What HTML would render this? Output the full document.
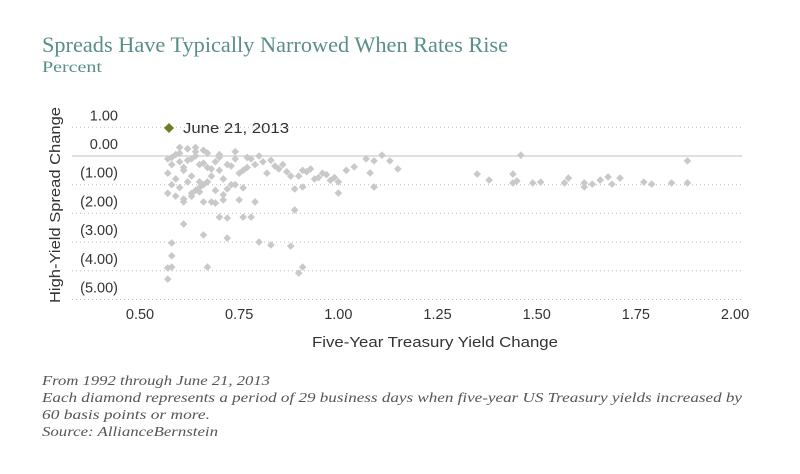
<!DOCTYPE html>
<html><head><meta charset="utf-8"><style>
body{margin:0;background:#fff;width:800px;height:474px;overflow:hidden}
svg{display:block}
</style></head><body>
<svg width="800" height="474">
<text x="42" y="52" font-family="Liberation Serif, serif" font-size="22" fill="#5a8e8a" textLength="466" lengthAdjust="spacingAndGlyphs">Spreads Have Typically Narrowed When Rates Rise</text>
<text x="42" y="72" font-family="Liberation Serif, serif" font-size="15.5" fill="#5a8e8a" textLength="60" lengthAdjust="spacingAndGlyphs">Percent</text>
<g id="grid"></g><g id="yticks"></g><g id="xticks"></g><g id="pts"></g>
<text transform="translate(60,205) rotate(-90)" text-anchor="middle" font-family="Liberation Sans, sans-serif" font-size="14.5" fill="#333" textLength="196" lengthAdjust="spacingAndGlyphs">High-Yield Spread Change</text>
<text x="435" y="347" text-anchor="middle" font-family="Liberation Sans, sans-serif" font-size="14.5" fill="#333" textLength="246" lengthAdjust="spacingAndGlyphs">Five-Year Treasury Yield Change</text>
<path d="M169,123 L174,128 L169,133 L164,128 Z" fill="#6b7f1e"/>
<text x="183" y="133" font-family="Liberation Sans, sans-serif" font-size="14.5" fill="#333" textLength="106" lengthAdjust="spacingAndGlyphs">June 21, 2013</text>
<g font-family="Liberation Serif, serif" font-style="italic" font-size="13.5" fill="#555" lengthAdjust="spacingAndGlyphs">
<text x="42" y="385" textLength="228" lengthAdjust="spacingAndGlyphs">From 1992 through June 21, 2013</text>
<text x="42" y="402" textLength="700" lengthAdjust="spacingAndGlyphs">Each diamond represents a period of 29 business days when five-year US Treasury yields increased by</text>
<text x="42" y="419" textLength="168" lengthAdjust="spacingAndGlyphs">60 basis points or more.</text>
<text x="42" y="436" textLength="176" lengthAdjust="spacingAndGlyphs">Source: AllianceBernstein</text>
</g>
</svg>
<script>
const yTicks=[1,0,-1,-2,-3,-4,-5];
const yTickLabels=["1.00","0.00","(1.00)","(2.00)","(3.00)","(4.00)","(5.00)"];
const xTicks=[0.5,0.75,1.0,1.25,1.5,1.75,2.0];
const xTickLabels=["0.50","0.75","1.00","1.25","1.50","1.75","2.00"];
const xVals=[0.61,0.66,0.72,0.80,0.83,0.88,0.58,0.58,0.57,0.58,0.57,0.67,0.90,0.91,0.89,0.70,0.72,0.76,0.78,0.66,0.69,0.71,0.75,0.79,0.76,0.72,1.0,1.09,0.89,0.91,
1.04,1.07,1.09,1.11,1.13,1.15,1.08,1.09,1.35,1.38,1.44,1.44,1.45,1.46,1.49,1.51,1.57,1.58,1.62,1.62,1.64,1.66,1.68,1.69,1.71,1.77,1.79,1.84,1.88,1.88,
0.57,0.58,0.59,0.60,0.61,0.62,0.63,0.64,0.65,0.66,0.57,0.59,0.61,0.63,0.65,0.67,0.69,0.58,0.60,0.62,0.64,0.66,0.68,0.70,0.72,0.74,0.57,0.59,0.61,0.63,0.65,0.67,0.69,0.71,0.73,0.75,0.77,0.58,0.60,0.62,0.64,0.66,0.68,0.70,0.73,0.76,0.79,0.82,0.85,0.88,0.91,0.94,0.97,1.00,0.78,0.81,0.84,0.87,0.90,0.93,0.96,0.99,1.02,0.74,0.77,0.80,0.83,0.86,0.92,0.95,0.98,0.61,0.63,0.65,0.68,0.71,0.74,0.60,0.62,0.64,0.67,0.70];
const yVals=[-2.37,-2.75,-2.86,-3.0,-3.1,-3.14,-3.03,-3.48,-3.9,-3.87,-4.29,-3.87,-4.08,-3.87,-1.88,-2.13,-2.16,-2.13,-2.13,-1.6,-1.64,-1.53,-1.53,-1.6,-1.11,-1.15,-1.29,-1.08,-1.15,-1.08,
-0.38,-0.1,-0.17,0.03,-0.17,-0.45,-0.59,-1.08,-0.63,-0.84,-0.63,-0.94,-0.87,0.03,-0.94,-0.91,-0.94,-0.77,-0.94,-1.08,-0.98,-0.84,-0.73,-0.98,-0.77,-0.91,-0.98,-0.94,-0.17,-0.94,
-0.1,-0.3,0.05,-0.2,-0.4,0.25,-0.1,0.15,-0.3,0.2,-0.6,-0.8,-0.5,-0.7,-0.9,-0.4,-0.2,-1.0,-1.1,-0.9,-1.2,-1.0,-0.7,-0.5,-0.3,-0.1,-1.3,-1.4,-1.5,-1.3,-1.1,-0.9,-1.2,-0.8,-1.0,-0.6,-0.4,-0.05,0.1,-0.15,0.0,-0.25,-0.45,0.05,-0.35,-0.5,-0.3,-0.6,-0.45,-0.7,-0.5,-0.8,-0.65,-0.9,-0.1,-0.2,-0.35,-0.55,-0.7,-0.45,-0.6,-0.75,-0.5,0.15,-0.05,0.0,-0.15,-0.3,-0.55,-0.75,-0.85,-1.6,-1.4,-1.25,-1.6,-1.35,-1.0,0.3,0.25,0.3,0.1,-0.05];
const X=v=>140+(v-0.5)*396.7, Y=v=>156-v*28.7;
const ns="http://www.w3.org/2000/svg";
function mk(t,a,p){const e=document.createElementNS(ns,t);for(const k in a)e.setAttribute(k,a[k]);p.appendChild(e);return e;}
const grid=document.getElementById('grid'),yt=document.getElementById('yticks'),xt=document.getElementById('xticks'),pts=document.getElementById('pts');
yTicks.forEach((v,i)=>{
 const l=mk('line',{x1:72,x2:742,y1:Y(v),y2:Y(v),stroke:v===0?'#d6d6d6':'#bdbdbd','stroke-width':v===0?1.5:1,'stroke-dasharray':v===0?'':'1,3'},grid);
 
 
 const t=mk('text',{x:118,y:Y(v)-7,'text-anchor':'end','font-family':'Liberation Sans, sans-serif','font-size':14.5,fill:'#333'},yt);
 t.textContent=yTickLabels[i];
 
 
});
xTicks.forEach((v,i)=>{
 const t=mk('text',{x:X(v),y:319,'text-anchor':'middle','font-family':'Liberation Sans, sans-serif','font-size':14.5,fill:'#333'},xt);
 t.textContent=xTickLabels[i];
 
 
});
xVals.forEach((v,i)=>{
 const cx=X(v),cy=Y(yVals[i]);
 const p=mk('path',{d:`M${cx},${cy-3.8}L${cx+3.8},${cy}L${cx},${cy+3.8}L${cx-3.8},${cy}Z`,fill:'#c9c9c9'},pts);
 
 
});
</script>
</body></html>
